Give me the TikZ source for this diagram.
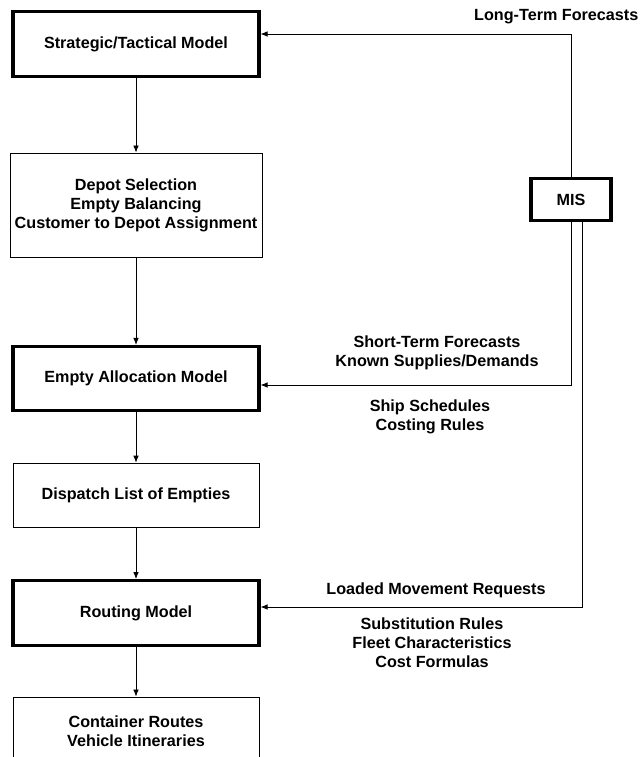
\documentclass[tikz,border=0pt]{standalone}
\usepackage{fontspec}
\setmainfont{Liberation Sans}
\usetikzlibrary{arrows.meta}

\begin{document}
\begin{tikzpicture}[x=0.025cm,y=-0.025cm,
	every node/.style={font=\bfseries\fontsize{11.5}{13.5}\selectfont, align=center},
	heavy/.style={draw, line width=2.2pt, minimum width=6.15cm},
	light/.style={draw, line width=0.6pt, minimum width=6.15cm},
	feed/.style={line width=0.6pt, -{Latex[length=5pt,width=4pt]}}]
	\useasboundingbox (0,0) rectangle (641,757);

	% model chain
	\node[heavy, minimum height=1.62cm] (strat) at (136,44) {Strategic/Tactical Model};
	\node[light, minimum height=2.6cm] (depot) at (136,205) {Depot Selection\\Empty Balancing\\Customer to Depot Assignment};
	\node[heavy, minimum height=1.6cm] (alloc) at (136,378.5) {Empty Allocation Model};
	\node[light, minimum height=1.62cm] (disp) at (136,495.5) {Dispatch List of Empties};
	\node[heavy, minimum height=1.62cm] (routing) at (136,613) {Routing Model};
	\node[light, minimum height=1.7cm] (cont) at (136,731) {Container Routes\\Vehicle Itineraries};

	\draw[feed] (strat) -- (depot);
	\draw[feed] (depot) -- (alloc);
	\draw[feed] (alloc) -- (disp);
	\draw[feed] (disp) -- (routing);
	\draw[feed] (routing) -- (cont);

	% MIS feeds
	\node[heavy, minimum width=2.0cm, minimum height=1.05cm] (mis) at (571,199.5) {MIS};
	\coordinate (lt) at (571,34);
	\coordinate (sf) at (571,385);
	\coordinate (lm) at (582,607);
	\draw[feed] (mis.north) -- (lt) -- (strat.east |- lt);
	\draw[feed] (mis.south -| sf) -- (sf) -- (alloc.east |- sf);
	\draw[feed] (mis.south -| lm) -- (lm) -- (routing.east |- lm);

	\node[anchor=east, inner sep=1pt] (longterm) at (640,17) {Long-Term Forecasts};
	\node (shortterm) at (437,353) {Short-Term Forecasts\\Known Supplies/Demands};
	\node (ship) at (430,417) {Ship Schedules\\Costing Rules};
	\node (loaded) at (436,590) {Loaded Movement Requests};
	\node (subst) at (432,643) {Substitution Rules\\Fleet Characteristics\\Cost Formulas};

\end{tikzpicture}
\end{document}
